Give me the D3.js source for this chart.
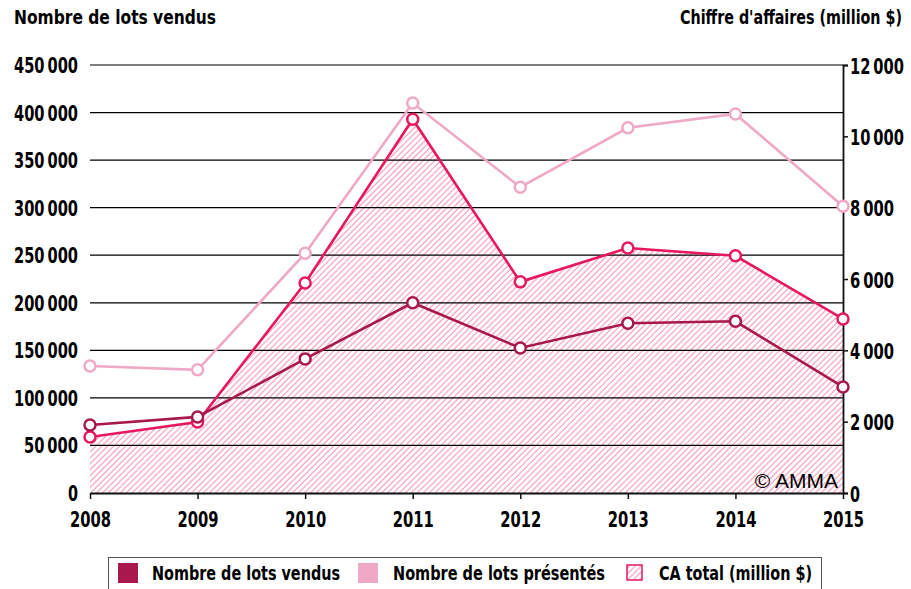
<!DOCTYPE html>
<html>
<head>
<meta charset="utf-8">
<script src="https://cdn.jsdelivr.net/npm/d3@7"></script>
<style>
  body { margin: 0; background: #fff; }
  svg text { font-family: "DejaVu Sans", sans-serif; font-stretch: condensed; }
</style>
</head>
<body>
<svg width="911" height="589"></svg>
<script>
// data
var years = [2008, 2009, 2010, 2011, 2012, 2013, 2014, 2015];
var lotsVendus = [71500, 80000, 141000, 200000, 152500, 178500, 180500, 111500];
var lotsPresentes = [133500, 129500, 252000, 410000, 321500, 384000, 398500, 301500];
var caTotal = [1570, 1990, 5890, 10480, 5920, 6870, 6650, 4880];
var leftTicks = [0, 50000, 100000, 150000, 200000, 250000, 300000, 350000, 400000, 450000];
var rightTicks = [0, 2000, 4000, 6000, 8000, 10000, 12000];

var colVendus = "#a8184c",
    colPresentes = "#efa9c6",
    colCA = "#e8195b";

var svg = d3.select("svg");
var plotLeft = 90, plotRight = 843, plotTop = 65, plotBottom = 493;

var x = d3.scalePoint().domain(years).range([plotLeft, plotRight]);
var yL = d3.scaleLinear().domain([0, 450000]).range([plotBottom, plotTop]);
var yR = d3.scaleLinear().domain([0, 12000]).range([plotBottom, plotTop]);

var fmt = function(v) { return d3.format(",")(v).replace(/,/g, "\u2009"); };
// narrow bold numbers: about 10px a digit, 4px a space
var numWidth = function(s) { s = String(s); return s.replace(/\D/g, "").length * 10 + (s.length - s.replace(/\D/g, "").length) * 4; };

// hatch pattern
var defs = svg.append("defs");
var pat = defs.append("pattern")
    .attr("id", "hatch")
    .attr("patternUnits", "userSpaceOnUse")
    .attr("width", 4.2).attr("height", 4.2)
    .attr("patternTransform", "rotate(45)");
pat.append("rect").attr("width", 4.2).attr("height", 4.2).attr("fill", "#fff");
pat.append("line")
    .attr("x1", 1).attr("y1", 0).attr("x2", 1).attr("y2", 4.2)
    .attr("stroke", "#f0719a").attr("stroke-width", 0.8);

// area under CA
var area = d3.area()
    .x(function(d, i) { return x(years[i]); })
    .y0(plotBottom)
    .y1(function(d) { return yR(d); });
svg.append("path").datum(caTotal).attr("d", area).attr("fill", "url(#hatch)");

// gridlines
svg.append("g").selectAll("line")
    .data(leftTicks.slice(1))
    .enter().append("line")
    .attr("x1", plotLeft).attr("x2", plotRight)
    .attr("y1", function(d) { return yL(d); })
    .attr("y2", function(d) { return yL(d); })
    .attr("stroke", "#000").attr("stroke-width", 1.2);

// left tick labels
svg.append("g").selectAll("text")
    .data(leftTicks)
    .enter().append("text")
    .attr("x", 78)
    .attr("y", function(d) { return yL(d) + 8; })
    .attr("text-anchor", "end")
    .attr("font-size", 21).attr("font-weight", "bold")
    .attr("textLength", function(d) { return numWidth(fmt(d)); })
    .attr("lengthAdjust", "spacingAndGlyphs")
    .text(fmt);

// right axis
var rAxis = svg.append("g").attr("transform", "translate(" + plotRight + ",0)")
    .call(d3.axisRight(yR).tickValues(rightTicks).tickSize(5).tickFormat(fmt));
rAxis.select(".domain").attr("stroke", "#111").attr("stroke-width", 1.8);
rAxis.selectAll(".tick line").attr("stroke", "#111").attr("stroke-width", 1.5);
rAxis.selectAll(".tick text")
    .attr("x", 7).attr("dy", null).attr("y", 8)
    .attr("font-size", 21).attr("font-weight", "bold").attr("fill", "#000")
    .attr("textLength", function(d) { return numWidth(fmt(d)); })
    .attr("lengthAdjust", "spacingAndGlyphs")
    .style("font-family", "\"DejaVu Sans\", sans-serif").style("font-stretch", "condensed");

// bottom axis
var bAxis = svg.append("g").attr("transform", "translate(0," + plotBottom + ")")
    .call(d3.axisBottom(x).tickSize(6).tickSizeOuter(0));
bAxis.select(".domain").attr("stroke", "#111").attr("stroke-width", 1.8);
bAxis.selectAll(".tick line").attr("stroke", "#111").attr("stroke-width", 1.5);
bAxis.selectAll(".tick text")
    .attr("y", 34).attr("dy", null)
    .attr("font-size", 21).attr("font-weight", "bold").attr("fill", "#000")
    .attr("textLength", 41).attr("lengthAdjust", "spacingAndGlyphs")
    .style("font-family", "\"DejaVu Sans\", sans-serif").style("font-stretch", "condensed");

// copyright
svg.append("text")
    .attr("x", 838).attr("y", 488)
    .attr("text-anchor", "end")
    .attr("font-size", 21)
    .style("font-family", "\"Liberation Sans\", Arial, sans-serif")
    .style("font-stretch", "normal")
    .text("\u00a9 AMMA");

// lines and markers
function drawSeries(values, scale, color) {
    var line = d3.line()
        .x(function(d, i) { return x(years[i]); })
        .y(function(d) { return scale(d); });
    svg.append("path").datum(values)
        .attr("d", line)
        .attr("fill", "none")
        .attr("stroke", color)
        .attr("stroke-width", 2.6);
    svg.append("g").selectAll("circle")
        .data(values)
        .enter().append("circle")
        .attr("cx", function(d, i) { return x(years[i]); })
        .attr("cy", function(d) { return scale(d); })
        .attr("r", 5.5)
        .attr("fill", "#fff")
        .attr("stroke", color)
        .attr("stroke-width", 2.5);
}
drawSeries(lotsPresentes, yL, colPresentes);
drawSeries(caTotal, yR, colCA);
drawSeries(lotsVendus, yL, colVendus);

// titles
svg.append("text")
    .attr("x", 14).attr("y", 24)
    .attr("font-size", 19).attr("font-weight", "bold")
    .attr("textLength", 202).attr("lengthAdjust", "spacingAndGlyphs")
    .text("Nombre de lots vendus");
svg.append("text")
    .attr("x", 680).attr("y", 24)
    .attr("font-size", 19).attr("font-weight", "bold")
    .attr("textLength", 222).attr("lengthAdjust", "spacingAndGlyphs")
    .text("Chiffre d'affaires (million $)");

// legend
var legend = svg.append("g");
legend.append("rect")
    .attr("x", 108.5).attr("y", 557.5)
    .attr("width", 713).attr("height", 40)
    .attr("fill", "#fff").attr("stroke", "#555").attr("stroke-width", 1);

var legendItems = [
    { label: "Nombre de lots vendus", fill: colVendus, x: 118, tx: 152, w: 188 },
    { label: "Nombre de lots pr\u00e9sent\u00e9s", fill: colPresentes, x: 358, tx: 393, w: 212 },
    { label: "CA total (million $)", fill: "url(#hatch)", x: 627, tx: 659, w: 153 }
];
var li = legend.selectAll(".legend")
    .data(legendItems)
    .enter().append("g")
    .attr("class", "legend");
li.append("rect")
    .attr("x", function(d) { return d.x; })
    .attr("y", function(d, i) { return i == 2 ? 565 : 563; })
    .attr("width", function(d, i) { return i == 2 ? 15 : 20; })
    .attr("height", function(d, i) { return i == 2 ? 15 : 20; })
    .attr("fill", function(d) { return d.fill; })
    .attr("stroke", function(d, i) { return i == 2 ? colCA : "none"; })
    .attr("stroke-width", 1.5);
li.append("text")
    .attr("x", function(d) { return d.tx; })
    .attr("y", 580)
    .attr("font-size", 19).attr("font-weight", "bold")
    .attr("textLength", function(d) { return d.w; })
    .attr("lengthAdjust", "spacingAndGlyphs")
    .text(function(d) { return d.label; });
</script>
</body>
</html>
